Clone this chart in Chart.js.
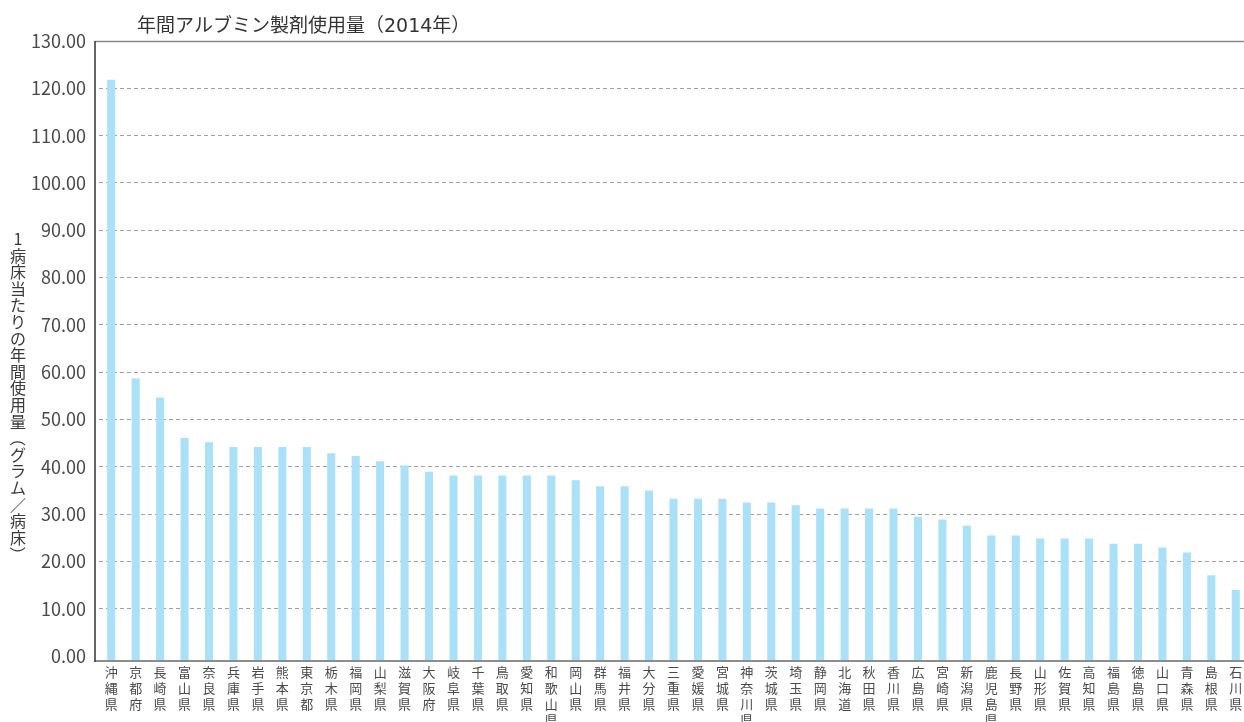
<!DOCTYPE html>
<html lang="ja">
<head>
<meta charset="utf-8">
<title>年間アルブミン製剤使用量(2014年)</title>
<script src="https://cdn.jsdelivr.net/npm/chart.js@4/dist/chart.umd.min.js"></script>
<style>
    html, body { margin: 0; padding: 0; background: #fff; overflow: hidden; }
    #wrap { width: 1252px; height: 722px; }
</style>
</head>
<body>
<div id="wrap"><canvas id="chart" width="1252" height="722"></canvas></div>
<script>
/* ============================================
   Albumin usage per hospital bed, by prefecture (2014)
   ============================================ */
const chartTitle = '年間アルブミン製剤使用量（2014年）';
const yAxisTitle = '1病床当たりの年間使用量（グラム／病床）';

const prefectures = [
    '沖縄県', '京都府', '長崎県', '富山県', '奈良県', '兵庫県', '岩手県', '熊本県',
    '東京都', '栃木県', '福岡県', '山梨県', '滋賀県', '大阪府', '岐阜県', '千葉県',
    '鳥取県', '愛知県', '和歌山県', '岡山県', '群馬県', '福井県', '大分県', '三重県',
    '愛媛県', '宮城県', '神奈川県', '茨城県', '埼玉県', '静岡県', '北海道', '秋田県',
    '香川県', '広島県', '宮崎県', '新潟県', '鹿児島県', '長野県', '山形県', '佐賀県',
    '高知県', '福島県', '徳島県', '山口県', '青森県', '島根県', '石川県'
];

const usage = [
    121.8, 58.7, 54.7, 46.1, 45.2, 44.2, 44.2, 44.2,
    44.2, 42.9, 42.3, 41.2, 40.3, 39.0, 38.2, 38.2,
    38.2, 38.2, 38.2, 37.2, 35.9, 35.9, 35.0, 33.3,
    33.3, 33.3, 32.5, 32.5, 31.9, 31.2, 31.2, 31.2,
    31.2, 29.5, 28.9, 27.6, 25.5, 25.5, 24.9, 24.9,
    24.9, 23.8, 23.8, 23.0, 21.9, 17.1, 14.0
];

const yTicks = [0, 10, 20, 30, 40, 50, 60, 70, 80, 90, 100, 110, 120, 130];

const FONT = "'Noto Sans CJK JP', 'Noto Sans', sans-serif";
const Y_MIN = -1; // axis line sits a little below the 0.00 tick

// frame lines, chart title and the upright vertical axis title
const framePlugin = {
    id: 'frame',
    afterDraw(chart) {
        const ctx = chart.ctx;
        const a = chart.chartArea;
        const axisX = a.left - 4;
        ctx.save();
        // top border
        ctx.strokeStyle = '#8a8a8a';
        ctx.lineWidth = 1.5;
        ctx.beginPath();
        ctx.moveTo(axisX, a.top + 0.5);
        ctx.lineTo(a.right + 10, a.top + 0.5);
        ctx.stroke();
        // bottom axis
        ctx.strokeStyle = '#8c8c8c';
        ctx.lineWidth = 2;
        ctx.beginPath();
        ctx.moveTo(axisX, a.bottom);
        ctx.lineTo(a.right + 10, a.bottom);
        ctx.stroke();
        // left axis
        ctx.strokeStyle = '#333';
        ctx.lineWidth = 1.5;
        ctx.beginPath();
        ctx.moveTo(axisX, a.top);
        ctx.lineTo(axisX, a.bottom + 1);
        ctx.stroke();

        // title
        ctx.fillStyle = '#333';
        ctx.font = "19px 'DejaVu Sans', " + FONT;
        ctx.textAlign = 'left';
        ctx.textBaseline = 'middle';
        ctx.fillText(chartTitle, a.left + 38, 27);

        // y axis title, stacked upright characters
        ctx.fillStyle = '#3a3a3a';
        ctx.font = '16px ' + FONT;
        ctx.textAlign = 'center';
        const chars = Array.from(yAxisTitle);
        chars.forEach((ch, i) => {
            const cy = 239 + i * 16.6;
            if (ch === '（' || ch === '）') {
                ctx.save();
                ctx.translate(18, cy);
                ctx.rotate(Math.PI / 2);
                ctx.fillText(ch, 0, 0);
                ctx.restore();
            } else {
                ctx.fillText(ch, 18, cy);
            }
        });
        ctx.restore();
    }
};

new Chart(document.getElementById('chart'), {
    type: 'bar',
    data: {
        labels: prefectures.map(p => Array.from(p)),
        datasets: [{
            data: usage,
            base: Y_MIN,
            backgroundColor: '#abe0f9',
            borderWidth: 0,
            barPercentage: 0.33,
            categoryPercentage: 1
        }]
    },
    options: {
        responsive: false,
        animation: false,
        layout: { padding: { top: 41, right: 4, bottom: 0, left: 0 } },
        plugins: {
            legend: { display: false },
            tooltip: { enabled: false },
            title: { display: false }
        },
        scales: {
            x: {
                grid: { display: false, drawTicks: false },
                border: { display: false },
                ticks: {
                    autoSkip: false,
                    maxRotation: 0,
                    padding: 3,
                    color: '#4a4a4a',
                    font: { family: FONT, size: 13, lineHeight: 1.23 }
                },
                afterFit(scale) { scale.height = 61; }
            },
            y: {
                min: Y_MIN,
                max: 130,
                afterBuildTicks(scale) {
                    scale.ticks = yTicks.map(v => ({ value: v }));
                },
                afterFit(scale) { scale.width = 99; },
                grid: {
                    drawTicks: false,
                    color: c => (c.tick && (c.tick.value === 0 || c.tick.value === 130)) ? 'rgba(0,0,0,0)' : '#a0a0a0',
                    lineWidth: 1,
                    borderDash: [4, 3]
                },
                border: { display: false, dash: [4, 3] },
                ticks: {
                    padding: 13,
                    color: '#4a4a4a',
                    font: { family: FONT, size: 18 },
                    callback: v => Number(v).toFixed(2)
                }
            }
        }
    },
    plugins: [framePlugin]
});
</script>
</body>
</html>
